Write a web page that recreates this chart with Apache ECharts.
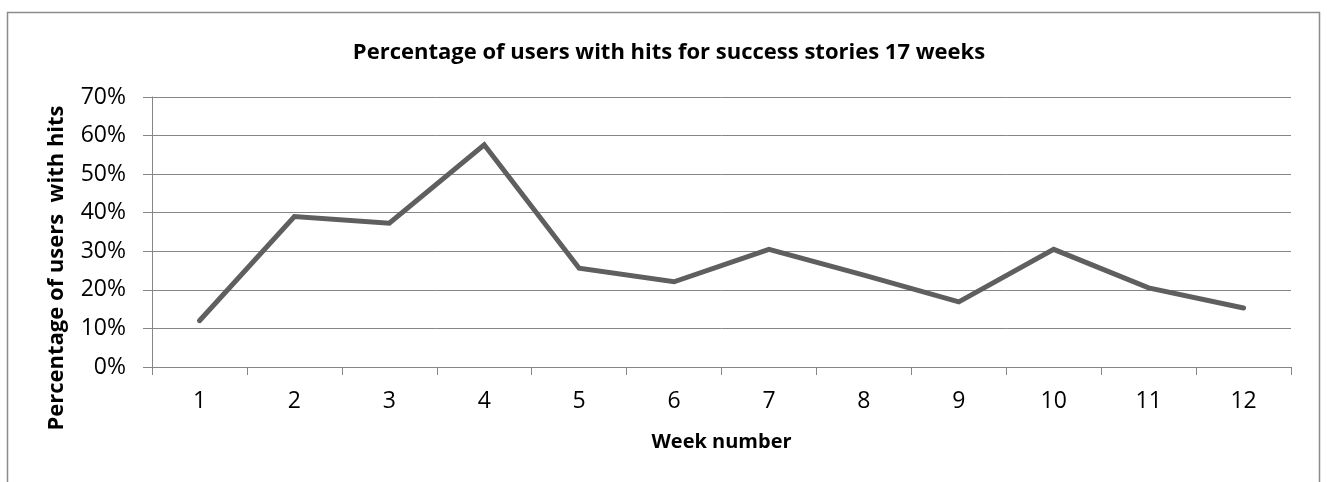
<!DOCTYPE html>
<html>
<head>
<meta charset="utf-8">
<script src="https://cdn.jsdelivr.net/npm/echarts@6/dist/echarts.min.js"></script>
<style>
  html, body { margin: 0; padding: 0; background: #ffffff; }
  #chart { width: 1327px; height: 482px; }
</style>
</head>
<body>
<div id="chart"></div>
<script>
// Weekly share of users who hit success stories
const weeks = ['1', '2', '3', '4', '5', '6', '7', '8', '9', '10', '11', '12'];
const shareWithHits = [0.120, 0.390, 0.373, 0.576, 0.256, 0.221, 0.305, 0.238, 0.169, 0.305, 0.205, 0.153];
const yTicks = { min: 0, max: 0.7, step: 0.1 };

const chartTitle = 'Percentage of users with hits for success stories 17 weeks';
const xTitle = 'Week number';
const yTitle = 'Percentage of users  with hits';

const FONT = '"Open Sans", "Liberation Sans", sans-serif';
const AXIS_GRAY = '#868686';

const chart = echarts.init(document.getElementById('chart'), null, { renderer: 'canvas' });

chart.setOption({
  backgroundColor: '#ffffff',
  animation: false,
  title: {
    text: chartTitle,
    left: 664,
    top: 37,
    textAlign: 'center',
    textStyle: { fontFamily: FONT, fontWeight: 'bold', fontSize: 22, color: '#000000' }
  },
  grid: { left: 152, right: 36, top: 97, bottom: 115 },
  xAxis: {
    type: 'category',
    data: weeks,
    boundaryGap: true,
    name: xTitle,
    nameLocation: 'middle',
    nameGap: 65,
    nameTextStyle: { fontFamily: FONT, fontWeight: 'bold', fontSize: 20, color: '#000000' },
    axisLine: { lineStyle: { color: AXIS_GRAY, width: 1 } },
    axisTick: { show: true, alignWithLabel: false, length: 8, lineStyle: { color: AXIS_GRAY } },
    axisLabel: { margin: 23, fontFamily: FONT, fontSize: 23, color: '#000000' },
    splitLine: { show: false }
  },
  yAxis: {
    type: 'value',
    min: yTicks.min,
    max: yTicks.max,
    interval: yTicks.step,
    axisLine: { show: true, lineStyle: { color: AXIS_GRAY, width: 1 } },
    axisTick: { show: true, length: 9, lineStyle: { color: AXIS_GRAY } },
    axisLabel: {
      margin: 26,
      fontFamily: FONT,
      fontSize: 23,
      color: '#000000',
      formatter: v => Math.round(v * 100) + '%'
    },
    splitLine: { show: true, lineStyle: { color: AXIS_GRAY, width: 1 } }
  },
  graphic: [
    {
      type: 'rect',
      silent: true,
      shape: { x: 7.5, y: 12.5, width: 1312, height: 500 },
      style: { fill: 'none', stroke: '#8c8c8c', lineWidth: 1.5 }
    },
    {
      type: 'text',
      silent: true,
      x: 57,
      y: 268,
      rotation: Math.PI / 2,
      style: {
        text: yTitle,
        fontFamily: FONT,
        fontWeight: 'bold',
        fontSize: 22,
        fill: '#000000',
        align: 'center',
        verticalAlign: 'middle'
      }
    }
  ],
  series: [{
    type: 'line',
    data: shareWithHits,
    symbol: 'none',
    lineStyle: { color: '#5f5f5f', width: 5, cap: 'round', join: 'miter' },
    z: 3
  }]
});
</script>
</body>
</html>
